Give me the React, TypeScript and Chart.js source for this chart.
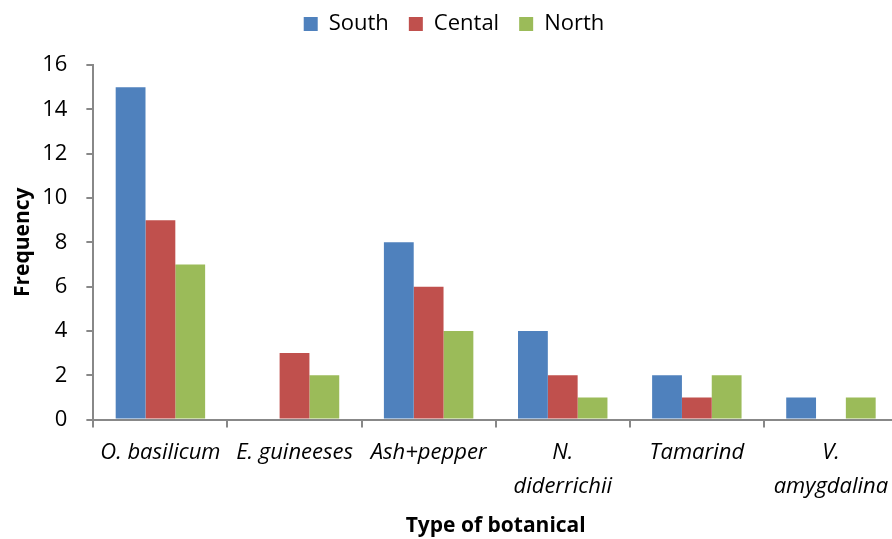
import React, { useEffect, useRef } from "react";
import { Chart, registerables } from "chart.js";

Chart.register(...registerables);

const categories: (string | string[])[] = [
  "O. basilicum",
  "E. guineeses",
  "Ash+pepper",
  ["N.", "diderrichii"],
  "Tamarind",
  ["V.", "amygdalina"],
];
const south = [15, 0, 8, 4, 2, 1];
const cental = [9, 3, 6, 2, 1, 0];
const north = [7, 2, 4, 1, 2, 1];
const yTicks = [0, 2, 4, 6, 8, 10, 12, 14, 16];

const FONT = "'Open Sans', 'Liberation Sans', sans-serif";

const legendGap = {
  id: "legendGap",
  beforeInit(chart: any) {
    const orig = chart.legend.fit;
    chart.legend.fit = function () {
      orig.bind(chart.legend)();
      this.height += 20;
    };
  },
};

export default function App() {
  const ref = useRef<HTMLCanvasElement | null>(null);
  useEffect(() => {
    if (!ref.current) return;
    const chart = new Chart(ref.current, {
      type: "bar",
      data: {
        labels: categories,
        datasets: [
          { label: "South", data: south, backgroundColor: "#4F81BD" },
          { label: "Cental", data: cental, backgroundColor: "#C0504D" },
          { label: "North", data: north, backgroundColor: "#9BBB59" },
        ],
      },
      plugins: [legendGap],
      options: {
        responsive: false,
        animation: false,
        datasets: { bar: { categoryPercentage: 0.667, barPercentage: 1 } },
        layout: { padding: { left: 10, right: 0, top: -7, bottom: 0 } },
        plugins: {
          legend: {
            position: "top",
            labels: {
              boxWidth: 14,
              boxHeight: 14,
              padding: 20,
              color: "#000",
              font: { family: FONT, size: 22 },
            },
          },
          tooltip: { enabled: false },
        },
        scales: {
          x: {
            grid: {
              drawOnChartArea: false,
              drawTicks: true,
              tickLength: 8,
              color: "#888",
              lineWidth: 2,
            },
            border: { color: "#888", width: 2 },
            ticks: {
              color: "#000",
              maxRotation: 0,
              minRotation: 0,
              autoSkip: false,
              padding: 8,
              font: { family: FONT, size: 22, style: "italic", lineHeight: 1.55 },
            },
            title: {
              display: true,
              text: "Type of botanical",
              color: "#000",
              font: { family: FONT, size: 21, weight: "bold" },
              padding: { top: 2, bottom: 0 },
            },
          },
          y: {
            min: 0,
            max: 16,
            afterBuildTicks: (axis: any) => {
              axis.ticks = yTicks.map((v) => ({ value: v }));
            },
            grid: {
              drawOnChartArea: false,
              drawTicks: true,
              tickLength: 7,
              color: "#888",
              lineWidth: 2,
            },
            border: { color: "#888", width: 2 },
            ticks: {
              color: "#000",
              padding: 19,
              font: { family: FONT, size: 22 },
            },
            title: {
              display: true,
              text: "Frequency",
              color: "#000",
              font: { family: FONT, size: 21, weight: "bold" },
              padding: { top: 0, bottom: -12 },
            },
          },
        },
      },
    });
    return () => chart.destroy();
  }, []);
  return (
    <div
      style={{
        position: "fixed",
        left: 0,
        top: 0,
        width: 892,
        height: 539,
        overflow: "hidden",
        background: "#fff",
      }}
    >
      <canvas ref={ref} width={898} height={539} style={{ display: "block" }} />
    </div>
  );
}
